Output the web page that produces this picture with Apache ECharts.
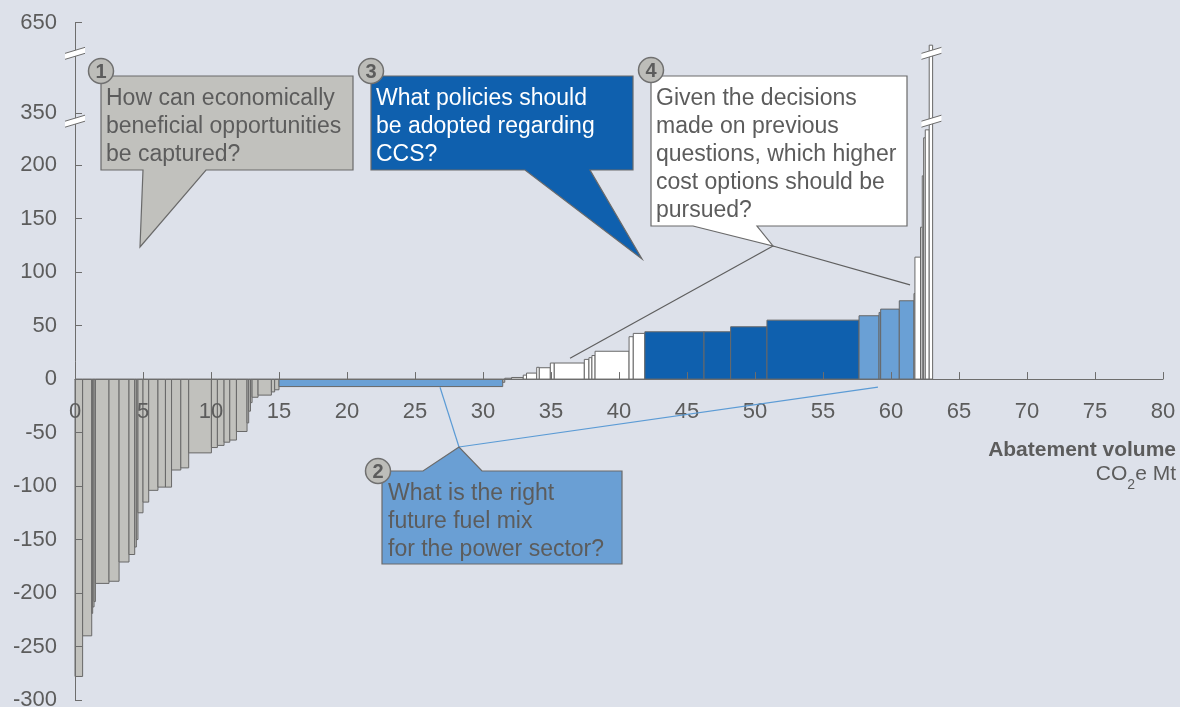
<!DOCTYPE html>
<html>
<head>
<meta charset="utf-8">
<script src="https://cdn.jsdelivr.net/npm/echarts/dist/echarts.min.js"></script>
<style>
  html, body { margin: 0; padding: 0; background: #dde1ea; }
  #chart { width: 1180px; height: 707px; }
</style>
</head>
<body>
<div id="chart"></div>
<script>
// Abatement measures, sorted by cost: width in Mt CO2e and cost per tonne
var abatementMt = [
  0.56, 0.67, 0.07, 0.10, 0.10, 1.00, 0.74, 0.73, 0.42, 0.12, 0.12, 0.37, 0.42, 0.68,
  0.55, 0.45, 0.68, 0.58, 1.67, 0.44, 0.49, 0.42, 0.49, 0.78, 0.12, 0.13, 0.12, 0.44,
  0.98, 0.24, 0.32,
  16.45,
  0.15, 0.50, 0.86, 0.24, 0.75, 0.19, 0.81, 0.29, 2.21, 0.34, 0.22, 0.23, 2.50, 0.31, 0.85,
  4.35, 1.96, 2.67, 6.77,
  1.47, 0.12, 1.37, 1.08,
  0.07, 0.41, 0.13, 0.10, 0.12, 0.29, 0.25
];
var costPerTonne = [
  -278, -240, -219, -213, -208, -191, -189, -171, -164, -157, -150, -125, -115, -104,
  -101, -101, -85, -83, -69, -64, -62, -59, -57, -49, -41, -30, -22, -17,
  -15, -12, -10,
  -7,
  -3, 0.8, 1.5, 3.7, 5.6, 11, 10.6, 15, 15, 18.4, 20, 22, 26, 39.6, 42.7,
  44.2, 44.2, 48.9, 55.1,
  59.2, 62.3, 65.4, 73.2,
  80, 114, 142, 190, 279, 302, 575
];
// 0 = gray, 1 = power sector, 2 = white, 3 = CCS, 4 = higher cost light blue
var measureGroup = [
  0,0,0,0,0,0,0,0,0,0,0,0,0,0,
  0,0,0,0,0,0,0,0,0,0,0,0,0,0,
  0,0,0,
  1,
  0,2,2,2,2,2,2,2,2,2,2,2,2,2,2,
  3,3,3,3,
  4,4,4,4,
  2,2,2,2,2,2,2
];
var xTicks = [0, 5, 10, 15, 20, 25, 30, 35, 40, 45, 50, 55, 60, 65, 70, 75, 80];
var yTickLabels = [-300, -250, -200, -150, -100, -50, 0, 50, 100, 150, 200, 350, 650];
var yBreaks = [327, 548];   // cost levels where the axis is broken

var groupFill = ['#c1c1bd', '#6aa0d5', '#ffffff', '#0f60ae', '#6aa0d5'];
var edge = '#686868';
var textGray = '#5c5c5c';

// Broken value axis: linear to 200, then compressed segments above
function toAxis(v) {
  if (v <= 200) return v;
  if (v <= 350) return 200 + (v - 200) * (48.5 / 150);
  return 248.5 + (v - 350) * (84.83 / 300);
}
function fromAxis(d) {
  if (d <= 200) return d;
  if (d <= 248.5) return 200 + (d - 200) * (150 / 48.5);
  return 350 + (d - 248.5) * (300 / 84.83);
}

var bars = [];
var start = 0;
for (var i = 0; i < abatementMt.length; i++) {
  var end = start + abatementMt[i];
  bars.push([start, end, toAxis(costPerTonne[i]), measureGroup[i]]);
  start = end;
}

var W = 1180, H = 707;
var gridTop = 22.5, gridBottom = 7;
var yMin = toAxis(-300), yMax = toAxis(650);
// place the horizontal axis on the zero cost line
var zeroOffset = (H - gridTop - gridBottom) * (0 - yMin) / (yMax - yMin);

var chart = echarts.init(document.getElementById('chart'), null, { renderer: 'canvas' });
var FONT = 'Liberation Sans, Arial, sans-serif';

chart.setOption({
  backgroundColor: '#dde1ea',
  animation: false,
  grid: { left: 75, right: 17, top: gridTop, bottom: gridBottom,
          containLabel: false, outerBoundsMode: 'none' },
  xAxis: {
    type: 'value', min: 0, max: 80, interval: 5, z: 5,
    position: 'bottom', offset: -zeroOffset,
    axisLine: { show: true, onZero: false, lineStyle: { color: '#6d6d6d', width: 1 } },
    axisTick: { show: true, inside: true, length: 7, lineStyle: { color: '#6d6d6d' } },
    axisLabel: { margin: 22, fontSize: 22, color: textGray, fontFamily: FONT,
                 customValues: xTicks },
    splitLine: { show: false }
  },
  yAxis: {
    type: 'value', min: yMin, max: yMax, z: 5,
    axisLine: { show: true, onZero: false, lineStyle: { color: '#6d6d6d', width: 1 } },
    axisTick: { show: true, inside: true, length: 7, lineStyle: { color: '#6d6d6d' },
                customValues: yTickLabels.map(toAxis) },
    axisLabel: { margin: 18, fontSize: 22, color: textGray, fontFamily: FONT,
                 customValues: yTickLabels.map(toAxis),
                 formatter: function (d) { return String(Math.round(fromAxis(d))); } },
    splitLine: { show: false }
  },
  series: [{
    type: 'custom',
    z: 2,
    encode: { x: [0, 1], y: 2 },
    data: bars,
    renderItem: function (params, api) {
      var p0 = api.coord([api.value(0), 0]);
      var p1 = api.coord([api.value(1), api.value(2)]);
      return {
        type: 'rect',
        shape: { x: p0[0], y: Math.min(p0[1], p1[1]),
                 width: p1[0] - p0[0], height: Math.abs(p1[1] - p0[1]) },
        style: { fill: groupFill[api.value(3)], stroke: edge, lineWidth: 1 }
      };
    }
  }]
});

// Callout targets in data space: [Mt, cost]
var powerTargets = [[26.84, -7.6], [59.04, -7.6]];
var higherTargets = [[36.4, 19.5], [61.4, 88]];

function px(pt) { return chart.convertToPixel({ gridIndex: 0 }, [pt[0], toAxis(pt[1])]); }

function breakMark(cx, cy) {
  return [
    { type: 'polygon', z: 20,
      shape: { points: [[cx - 10, cy + 3], [cx + 10, cy - 3], [cx + 10, cy - 9], [cx - 10, cy - 3]] },
      style: { fill: '#ffffff', stroke: null } },
    { type: 'line', z: 21, shape: { x1: cx - 10, y1: cy + 3, x2: cx + 10, y2: cy - 3 },
      style: { stroke: '#6d6d6d', lineWidth: 1 } },
    { type: 'line', z: 21, shape: { x1: cx - 10, y1: cy - 3, x2: cx + 10, y2: cy - 9 },
      style: { stroke: '#6d6d6d', lineWidth: 1 } }
  ];
}

function badge(cx, cy, n) {
  return [
    { type: 'circle', z: 30, shape: { cx: cx, cy: cy, r: 12.5 },
      style: { fill: '#bdbdb9', stroke: '#707070', lineWidth: 1.5 } },
    { type: 'text', z: 31, x: cx, y: cy + 1,
      style: { text: String(n), font: 'bold 20px ' + FONT, fill: textGray,
               textAlign: 'center', textVerticalAlign: 'middle' } }
  ];
}

function calloutText(x, y, txt, color) {
  return { type: 'text', z: 26, x: x, y: y,
    style: { text: txt, font: '23px ' + FONT, fill: color, lineHeight: 28,
             textAlign: 'left', textVerticalAlign: 'top' } };
}

var g = [];
var axisX = px([0, 0])[0];
var tallX = px([62.9, 0])[0];
yBreaks.forEach(function (b) {
  var y = px([0, b])[1];
  g = g.concat(breakMark(axisX, y + 3)).concat(breakMark(tallX + 1, y + 3));
});

// Callout 1: economically beneficial opportunities
g.push({ type: 'polygon', z: 25,
  shape: { points: [[101, 76], [353, 76], [353, 170], [206, 170], [140, 247], [143, 170], [101, 170]] },
  style: { fill: '#c1c1bd', stroke: '#6a6a6a', lineWidth: 1.2 } });
g.push(calloutText(106, 85, 'How can economically\nbeneficial opportunities\nbe captured?', textGray));
g = g.concat(badge(101, 71, 1));

// Callout 3: CCS
g.push({ type: 'polygon', z: 25,
  shape: { points: [[371, 76], [633, 76], [633, 170], [590, 170], [642, 259], [525, 170], [371, 170]] },
  style: { fill: '#0f60ae', stroke: '#6a6a6a', lineWidth: 1.2 } });
g.push(calloutText(376, 85, 'What policies should\nbe adopted regarding\nCCS?', '#ffffff'));
g = g.concat(badge(371, 71, 3));

// Callout 4: higher cost options, with connectors
var apex4 = [773, 246];
higherTargets.forEach(function (t) {
  var p = px(t);
  g.push({ type: 'line', z: 24, shape: { x1: apex4[0], y1: apex4[1], x2: p[0], y2: p[1] },
           style: { stroke: '#5f5f5f', lineWidth: 1.2 } });
});
g.push({ type: 'polygon', z: 25,
  shape: { points: [[651, 76], [907, 76], [907, 226], [757, 226], apex4, [693, 226], [651, 226]] },
  style: { fill: '#ffffff', stroke: '#6a6a6a', lineWidth: 1.2 } });
g.push(calloutText(656, 85, 'Given the decisions\nmade on previous\nquestions, which higher\ncost options should be\npursued?', textGray));
g = g.concat(badge(651, 70, 4));

// Callout 2: power sector fuel mix, with connectors
var apex2 = [459, 447];
powerTargets.forEach(function (t) {
  var p = px(t);
  g.push({ type: 'line', z: 24, shape: { x1: apex2[0], y1: apex2[1], x2: p[0], y2: p[1] },
           style: { stroke: '#5b9bd5', lineWidth: 1.2 } });
});
g.push({ type: 'polygon', z: 25,
  shape: { points: [[382, 471], [423, 471], apex2, [482, 471], [622, 471], [622, 564], [382, 564]] },
  style: { fill: '#6a9fd4', stroke: '#6a6a6a', lineWidth: 1.2 } });
g.push(calloutText(388, 480, 'What is the right\nfuture fuel mix\nfor the power sector?', textGray));
g = g.concat(badge(378, 471, 2));

// Axis title
g.push({ type: 'text', z: 26, x: 1176, y: 450,
  style: { text: 'Abatement volume', font: 'bold 21px ' + FONT, fill: textGray,
           textAlign: 'right', textVerticalAlign: 'middle' } });
g.push({ type: 'text', z: 26, x: 1176, y: 464,
  style: { text: '{a|CO}{s|2}{a|e Mt}', textAlign: 'right', textVerticalAlign: 'top',
           rich: {
             a: { font: '21px ' + FONT, fill: textGray, lineHeight: 24, verticalAlign: 'top' },
             s: { font: '14px ' + FONT, fill: textGray, lineHeight: 14, padding: [14, 0, 0, 0], verticalAlign: 'top' }
           } } });

chart.setOption({ graphic: { elements: g } });
</script>
</body>
</html>
